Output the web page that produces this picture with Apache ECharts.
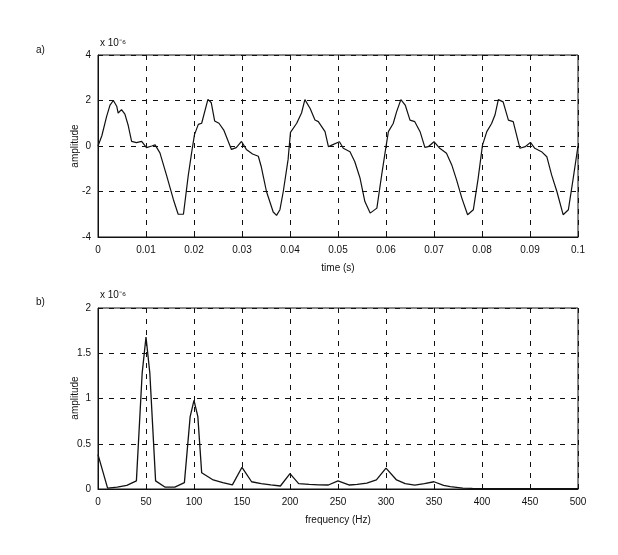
<!DOCTYPE html>
<html lang="en">
<head>
    <meta charset="UTF-8">
    <title>signal and spectrum</title>
    <script src="https://cdn.jsdelivr.net/npm/echarts@6/dist/echarts.min.js"></script>
    <style>
        html, body { margin: 0; padding: 0; background: #fff; }
        #chart { width: 618px; height: 555px; }
    </style>
</head>
<body>
<div id="chart"></div>
<script>
    // a) time signal, amplitude in units of 1e-6
    var timeS = [0, 0.0008, 0.0018, 0.0025, 0.0032, 0.0039, 0.0042, 0.0049, 0.0056, 0.0063,
        0.0070, 0.0080, 0.0091, 0.0101, 0.0112, 0.0119, 0.0129, 0.0143, 0.0157, 0.0167,
        0.0178, 0.0188, 0.0195, 0.0201, 0.0209, 0.0216, 0.0229, 0.0236, 0.0243, 0.0252,
        0.0262, 0.0278, 0.0288, 0.0299, 0.0309, 0.0322, 0.0334, 0.0340, 0.0345, 0.0351,
        0.0365, 0.0372, 0.0379, 0.0386, 0.0396, 0.0401, 0.0414, 0.0424, 0.0431, 0.0442,
        0.0452, 0.0459, 0.0473, 0.0480, 0.0487, 0.0503, 0.0511, 0.0525, 0.0535, 0.0546,
        0.0556, 0.0567, 0.0581, 0.0591, 0.0600, 0.0605, 0.0615, 0.0622, 0.0631, 0.0640,
        0.0650, 0.0660, 0.0671, 0.0681, 0.0688, 0.0700, 0.0712, 0.0726, 0.0737, 0.0747,
        0.0758, 0.0770, 0.0782, 0.0792, 0.0801, 0.0810, 0.0820, 0.0827, 0.0834, 0.0844,
        0.0855, 0.0865, 0.0879, 0.0890, 0.0901, 0.0910, 0.0924, 0.0935, 0.0945, 0.0956,
        0.0969, 0.0980, 0.0990, 0.1000];
    var timeAmp = [0, 0.45, 1.3, 1.8, 2.0, 1.75, 1.45, 1.6, 1.4, 0.9,
        0.2, 0.15, 0.2, -0.07, 0.0, 0.05, -0.3, -1.3, -2.35, -3.0,
        -3.0, -1.3, -0.3, 0.5, 0.95, 1.0, 2.05, 1.9, 1.1, 1.0,
        0.7, -0.15, -0.07, 0.2, -0.15, -0.35, -0.45, -0.9, -1.4, -2.0,
        -2.9, -3.05, -2.8, -2.0, -0.6, 0.6, 1.0, 1.45, 2.04, 1.65,
        1.14, 1.07, 0.63, -0.03, 0.04, 0.19, -0.1, -0.25, -0.69, -1.42,
        -2.44, -2.95, -2.73, -1.27, -0.03, 0.63, 0.99, 1.5, 2.04, 1.8,
        1.14, 1.07, 0.63, -0.06, -0.03, 0.19, -0.1, -0.32, -0.83, -1.49,
        -2.29, -3.02, -2.8, -1.42, 0.04, 0.63, 0.99, 1.36, 2.04, 1.94,
        1.14, 1.07, -0.1, -0.03, 0.16, -0.1, -0.25, -0.47, -1.27, -2.0,
        -3.02, -2.8, -1.42, 0.0];

    // b) spectrum, amplitude in units of 1e-6
    var freqHz = [0, 10, 20, 30, 40, 46, 50, 54, 60, 70, 80, 90, 96, 100, 104, 108, 120,
        130, 140, 150, 160, 170, 180, 190, 200, 209, 220, 230, 240, 250, 262, 270, 280,
        290, 300, 311, 320, 330, 340, 350, 360, 367, 380, 390, 400, 420, 440, 460, 480, 500];
    var freqAmp = [0.38, 0.01, 0.02, 0.04, 0.09, 1.28, 1.68, 1.28, 0.09, 0.02, 0.02, 0.07, 0.8, 0.98, 0.8, 0.18, 0.1,
        0.07, 0.045, 0.24, 0.08, 0.06, 0.045, 0.033, 0.17, 0.06, 0.05, 0.045, 0.044, 0.09, 0.044, 0.05, 0.065,
        0.1, 0.23, 0.1, 0.06, 0.044, 0.06, 0.08, 0.04, 0.026, 0.01, 0.006, 0.005, 0.004, 0.004, 0.003, 0.003, 0.003];

    var timeTicks = [0, 0.01, 0.02, 0.03, 0.04, 0.05, 0.06, 0.07, 0.08, 0.09, 0.1];

    function pairs(xs, ys) {
        return xs.map(function (x, i) { return [x, ys[i]]; });
    }

    var ink = '#111';
    var font = { fontFamily: 'Liberation Sans, Arial, sans-serif', fontSize: 10, color: ink };
    var dashed = { show: true, lineStyle: { color: '#111', type: [5, 6], width: 1 } };

    function xAxisFor(gridIndex, min, max, interval, name, fmt) {
        return {
            type: 'value', gridIndex: gridIndex, min: min, max: max, interval: interval,
            name: name, nameLocation: 'middle', nameGap: 26,
            nameTextStyle: font,
            axisLine: { show: true, onZero: false, lineStyle: { color: ink } },
            axisTick: { show: true, inside: true, length: 4, lineStyle: { color: ink } },
            axisLabel: Object.assign({ margin: 8, formatter: fmt }, font),
            splitLine: dashed
        };
    }
    function yAxisFor(gridIndex, min, max, interval) {
        return {
            type: 'value', gridIndex: gridIndex, min: min, max: max, interval: interval,
            axisLine: { show: true, lineStyle: { color: ink } },
            axisTick: { show: true, inside: true, length: 4, lineStyle: { color: ink } },
            axisLabel: Object.assign({ margin: 7 }, font),
            splitLine: dashed
        };
    }

    var chart = echarts.init(document.getElementById('chart'), null, { renderer: 'canvas' });
    chart.setOption({
        animation: false,
        backgroundColor: '#fff',
        grid: [
            { left: 98, right: 40, top: 55, height: 182, show: true, borderColor: ink, borderWidth: 1 },
            { left: 98, right: 40, top: 308, height: 181, show: true, borderColor: ink, borderWidth: 1 }
        ],
        xAxis: [
            xAxisFor(0, 0, 0.1, 0.01, 'time (s)', function (v) {
                var t = timeTicks.reduce(function (a, b) { return Math.abs(b - v) < Math.abs(a - v) ? b : a; });
                return String(t);
            }),
            xAxisFor(1, 0, 500, 50, 'frequency (Hz)')
        ],
        yAxis: [
            yAxisFor(0, -4, 4, 2),
            yAxisFor(1, 0, 2, 0.5)
        ],
        graphic: [
            { type: 'text', left: 36, top: 45, style: Object.assign({ text: 'a)' }, font, { fill: ink }) },
            { type: 'text', left: 36, top: 297, style: Object.assign({ text: 'b)' }, font, { fill: ink }) },
            { type: 'text', left: 100, top: 38, style: Object.assign({ text: 'x 10⁻⁶' }, font, { fill: ink }) },
            { type: 'text', left: 100, top: 290, style: Object.assign({ text: 'x 10⁻⁶' }, font, { fill: ink }) },
            { type: 'text', x: 75, y: 146, rotation: Math.PI / 2,
              style: Object.assign({ text: 'amplitude', align: 'center', verticalAlign: 'middle' }, font, { fill: ink }) },
            { type: 'text', x: 75, y: 398, rotation: Math.PI / 2,
              style: Object.assign({ text: 'amplitude', align: 'center', verticalAlign: 'middle' }, font, { fill: ink }) }
        ],
        series: [
            {
                type: 'line', xAxisIndex: 0, yAxisIndex: 0, data: pairs(timeS, timeAmp),
                showSymbol: false, lineStyle: { color: ink, width: 1.2 }, z: 5
            },
            {
                type: 'line', xAxisIndex: 1, yAxisIndex: 1, data: pairs(freqHz, freqAmp),
                showSymbol: false, lineStyle: { color: ink, width: 1.3 }, z: 5
            }
        ]
    });
</script>
</body>
</html>
